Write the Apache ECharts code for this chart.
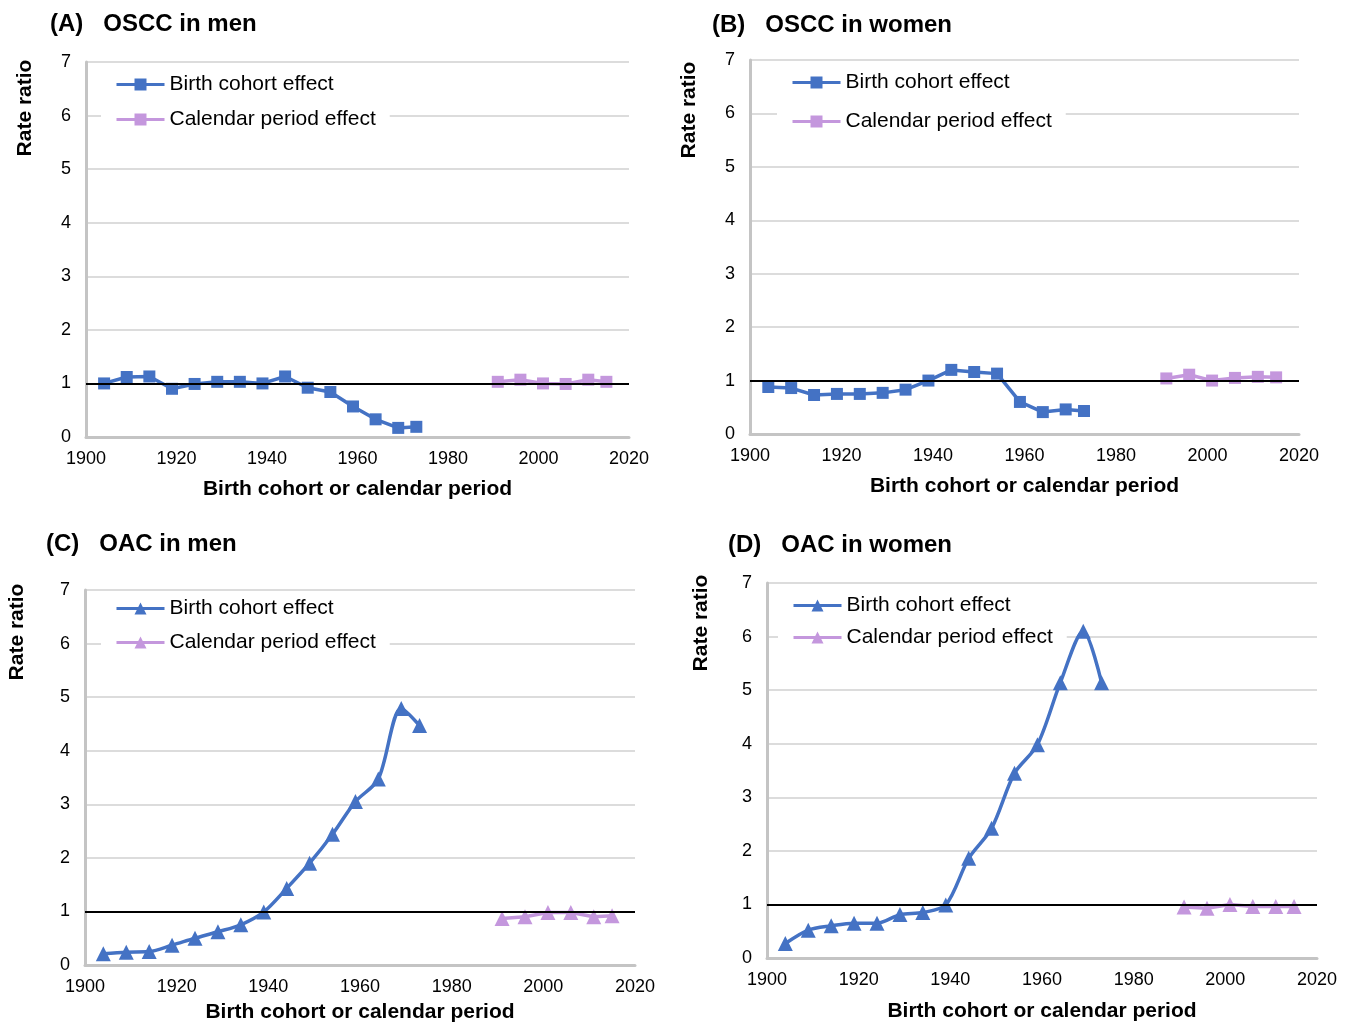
<!DOCTYPE html>
<html><head><meta charset="utf-8">
<script src="https://cdn.jsdelivr.net/npm/echarts@6/dist/echarts.min.js"></script>
<style>html,body{margin:0;padding:0;background:#fff}#c{width:1351px;height:1023px}</style>
</head><body><div id="c"></div>
<script>
const cohortYears = [1904,1909,1914,1919,1924,1929,1934,1939,1944,1949,1954,1959,1964,1969,1973];
const periodYears = [1991,1996,2001,2006,2011,2015];
const osccMenCohort   = [1.00,1.12,1.13,0.90,0.99,1.03,1.03,1.00,1.13,0.92,0.84,0.57,0.33,0.17,0.19];
const osccMenPeriod   = [1.03,1.07,1.00,0.99,1.07,1.03];
const osccWomenCohort = [0.88,0.86,0.73,0.75,0.75,0.77,0.83,1.00,1.20,1.16,1.13,0.60,0.41,0.46,0.43];
const osccWomenPeriod = [1.04,1.11,1.00,1.05,1.07,1.06];
const oacMenCohort    = [0.21,0.24,0.25,0.37,0.50,0.62,0.75,0.99,1.43,1.90,2.44,3.05,3.47,4.79,4.47];
const oacMenPeriod    = [0.87,0.90,0.98,0.98,0.90,0.92];
const oacWomenCohort  = [0.27,0.52,0.60,0.65,0.65,0.81,0.85,0.99,1.86,2.42,3.45,3.98,5.14,6.10,5.14];
const oacWomenPeriod  = [0.95,0.93,1.00,0.96,0.96,0.96];
const yTicks = [0,1,2,3,4,5,6,7];
const xTicks = [1900,1920,1940,1960,1980,2000,2020];

const panels = [
  {title:'(A)   OSCC in men', cohort:osccMenCohort, period:osccMenPeriod, symbol:'rect', smooth:false,
   grid:{left:86,top:62,width:543,height:375}, legend:{left:101,top:70,gap:14}, tpos:[50,12], ypos:[25,108], xgap:42},
  {title:'(B)   OSCC in women', cohort:osccWomenCohort, period:osccWomenPeriod, symbol:'rect', smooth:false,
   grid:{left:750,top:60,width:549,height:374}, legend:{left:777,top:68,gap:18}, tpos:[712,13], ypos:[689,110], xgap:42},
  {title:'(C)   OAC in men', cohort:oacMenCohort, period:oacMenPeriod, symbol:'triangle', smooth:true,
   grid:{left:85,top:590,width:550,height:375}, legend:{left:101,top:594,gap:13}, tpos:[46,532], ypos:[17,632], xgap:37},
  {title:'(D)   OAC in women', cohort:oacWomenCohort, period:oacWomenPeriod, symbol:'triangle', smooth:true,
   grid:{left:767,top:583,width:550,height:375}, legend:{left:778,top:591,gap:11}, tpos:[728,533], ypos:[701,623], xgap:43}
];

const FONT = '"Liberation Sans", Arial, Helvetica, sans-serif';
const BLUE = '#4472C4', PURPLE = '#C497DD';
const option = {animation:false, backgroundColor:'#fff', title:[], grid:[], xAxis:[], yAxis:[], legend:[], series:[], graphic:[]};

panels.forEach((p,i)=>{
  const sym = p.symbol==='rect'?12:15;
  option.title.push({text:p.title, left:p.tpos[0], top:p.tpos[1], padding:0,
    textStyle:{fontFamily:FONT, fontSize:24, fontWeight:'bold', color:'#000'}});
  option.grid.push(Object.assign({containLabel:false, outerBoundsMode:'none'}, p.grid));
  option.xAxis.push({type:'value', gridIndex:i, min:xTicks[0], max:xTicks[xTicks.length-1], interval:20,
    name:'Birth cohort or calendar period', nameLocation:'middle', nameGap:p.xgap,
    nameTextStyle:{fontFamily:FONT, fontSize:21, fontWeight:'bold', color:'#000'},
    axisLine:{show:true, lineStyle:{color:'#c4c4c4', width:3}}, axisTick:{show:false}, splitLine:{show:false},
    axisLabel:{fontFamily:FONT, fontSize:18, color:'#000', margin:13, formatter:v=>String(v)}});
  option.yAxis.push({type:'value', gridIndex:i, min:yTicks[0], max:yTicks[yTicks.length-1], interval:1,
    axisLine:{show:true, lineStyle:{color:'#c4c4c4', width:3}}, axisTick:{show:false},
    splitLine:{show:true, lineStyle:{color:'#dcdcdc', width:2}},
    axisLabel:{fontFamily:FONT, fontSize:18, color:'#000', margin:15}});
  const cName = 'Birth cohort effect', pName = 'Calendar period effect';
  option.legend.push({orient:'vertical', left:p.legend.left, top:p.legend.top, itemGap:p.legend.gap,
    itemWidth:48, itemHeight:15, padding:[4,14,4,14], backgroundColor:'#fff', z:5,
    lineStyle:{width:3},
    textStyle:{fontFamily:FONT, fontSize:21, color:'#000', padding:[0,0,0,0]},
    data:[{name:cName+'\u200b'.repeat(i)},{name:pName+'\u200b'.repeat(i)}]});
  option.series.push({name:cName+'\u200b'.repeat(i), type:'line', xAxisIndex:i, yAxisIndex:i,
    data:cohortYears.map((y,k)=>[y,p.cohort[k]]), symbol:p.symbol, symbolSize:sym,
    smooth:p.smooth?0.3:false, color:BLUE, lineStyle:{width:3.5, color:BLUE}, itemStyle:{color:BLUE},
    markLine:{silent:true, symbol:'none', label:{show:false}, lineStyle:{color:'#000', width:2, type:'solid'}, data:[{yAxis:1}]}});
  option.series.push({name:pName+'\u200b'.repeat(i), type:'line', xAxisIndex:i, yAxisIndex:i,
    data:periodYears.map((y,k)=>[y,p.period[k]]), symbol:p.symbol, symbolSize:sym,
    smooth:false, color:PURPLE, lineStyle:{width:3.5, color:PURPLE}, itemStyle:{color:PURPLE}});
  option.graphic.push({type:'text', x:p.ypos[0], y:p.ypos[1], rotation:Math.PI/2,
    style:{text:'Rate ratio', fontFamily:FONT, fontSize:21, fontWeight:'bold', fill:'#000', align:'center', verticalAlign:'middle'}});
});

const chart = echarts.init(document.getElementById('c'), null, {renderer:'canvas'});
chart.setOption(option);
</script></body></html>
